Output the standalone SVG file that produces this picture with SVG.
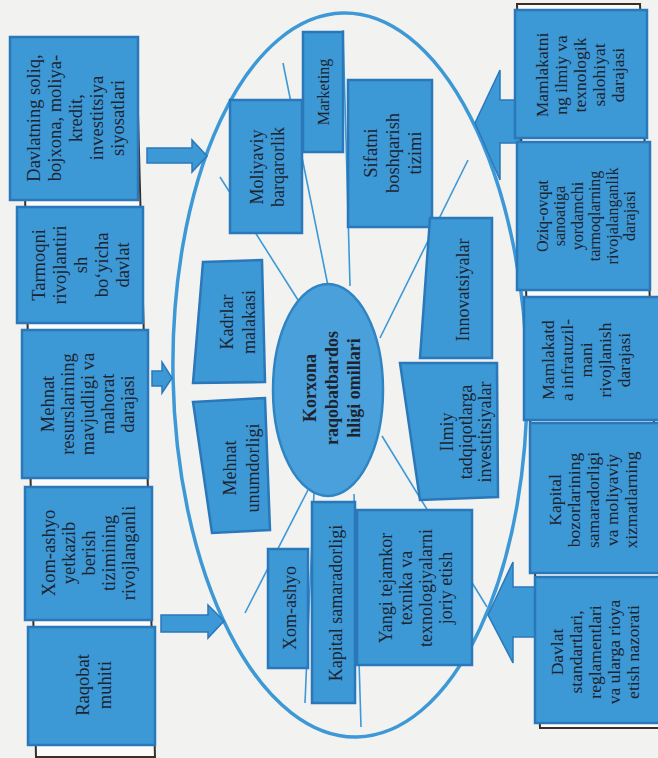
<svg xmlns="http://www.w3.org/2000/svg" width="658" height="758" viewBox="0 0 658 758">
<defs>
<style>
.bg{fill:#f2f2f1}
.box{fill:#3d98d6;stroke:#2a78b9;stroke-width:2.5}
.frame{fill:#fbfbfa;stroke:#3b2f27;stroke-width:2}
.t{font-family:"Liberation Serif","Times New Roman",serif;fill:#1c2430;text-anchor:middle}
.f185{font-size:18.5px}
.f18{font-size:18px}
.f175{font-size:17.5px}
.f16{font-size:16px}
.b{font-weight:bold}
.ln{stroke:#3d98d6;stroke-width:1.6;fill:none}
.oval{fill:none;stroke:#3d98d6;stroke-width:3.5}
.arrow{fill:#3d98d6;stroke:#2a78b9;stroke-width:1.5}
.core{fill:#4aa0da;stroke:#2f84c4;stroke-width:2.5}
</style>
</defs>
<rect class="bg" x="0" y="0" width="658" height="758"/>

<ellipse class="oval" cx="350" cy="375" rx="177" ry="362" transform="rotate(-1.1 350 375)"/>

<g id="connectors">
<line class="ln" x1="283" y1="63" x2="328" y2="286"/>
<line class="ln" x1="343" y1="30" x2="350" y2="286"/>
<line class="ln" x1="220" y1="177" x2="298" y2="300"/>
<line class="ln" x1="468" y1="160" x2="380" y2="338"/>
<line class="ln" x1="382" y1="436" x2="487" y2="607"/>
<line class="ln" x1="308" y1="490" x2="245" y2="613"/>
<line class="ln" x1="314" y1="492" x2="305" y2="703"/>
<line class="ln" x1="354" y1="494" x2="361" y2="727"/>
<path class="arrow" d="M147,148 H192 V140 L207,156 L192,172 V163 H147 Z"/>
<path class="arrow" d="M152,371 H162 V362 L172,378 L162,393 V386 H152 Z"/>
<path class="arrow" d="M161,615 H208 V605 L224,621 L208,638 V632 H161 Z"/>
<path class="arrow" d="M520,100 H500 V70 L475,123 L500,180 V143 H520 Z"/>
<path class="arrow" d="M537,587 H513 V562 L488,615 L513,663 V637 H537 Z"/>
</g>

<polygon class="frame" points="22,38 136,38 155,757 36,757"/>
<polygon class="frame" points="517,4 640,4 664,728 540,728"/>

<g id="left1"><rect class="box" x="10" y="37" width="128" height="163"/>
<text class="t f185" transform="translate(0,118) rotate(-90)"><tspan x="0" y="39.5">Davlatning soliq,</tspan><tspan x="0" y="60.5">bojxona, moliya-</tspan><tspan x="0" y="81.5">kredit,</tspan><tspan x="0" y="102.5">investitsiya</tspan><tspan x="0" y="123.5">siyosatlari</tspan></text></g>
<g id="left2"><rect class="box" x="17" y="207" width="126" height="116"/>
<text class="t f185" transform="translate(0,265) rotate(-90)"><tspan x="0" y="44.5">Tarmoqni</tspan><tspan x="0" y="65.5">rivojlantiri</tspan><tspan x="0" y="86.5">sh</tspan><tspan x="0" y="107.5">bo‘yicha</tspan><tspan x="0" y="128.5">davlat</tspan></text></g>
<g id="left3"><rect class="box" x="22" y="330" width="126" height="148"/>
<text class="t f185" transform="translate(0,404) rotate(-90)"><tspan x="0" y="53.5">Mehnat</tspan><tspan x="0" y="73.5">resurslarining</tspan><tspan x="0" y="93.5">mavjudligi va</tspan><tspan x="0" y="113.5">mahorat</tspan><tspan x="0" y="133.5">darajasi</tspan></text></g>
<g id="left4"><rect class="box" x="25" y="487" width="127" height="133"/>
<text class="t f185" transform="translate(0,553) rotate(-90)"><tspan x="0" y="54.5">Xom-ashyo</tspan><tspan x="0" y="74.5">yetkazib</tspan><tspan x="0" y="94.5">berish</tspan><tspan x="0" y="114.5">tizimining</tspan><tspan x="0" y="134.5">rivojlanganli</tspan></text></g>
<g id="left5"><rect class="box" x="28" y="627" width="127" height="118"/>
<text class="t f185" transform="translate(0,685) rotate(-90)"><tspan x="0" y="88.5">Raqobat</tspan><tspan x="0" y="110.5">muhiti</tspan></text></g>

<g id="right1"><rect class="box" x="515" y="10" width="132" height="128"/>
<text class="t f175" transform="translate(0,75) rotate(-90)"><tspan x="0" y="548.1">Mamlakatni</tspan><tspan x="0" y="567.1">ng ilmiy va</tspan><tspan x="0" y="586.1">texnologik</tspan><tspan x="0" y="605.1">salohiyat</tspan><tspan x="0" y="624.1">darajasi</tspan></text></g>
<g id="right2"><rect class="box" x="517" y="142" width="133" height="148"/>
<text class="t f16" transform="translate(0,216) rotate(-90)"><tspan x="0" y="547.6">Oziq-ovqat</tspan><tspan x="0" y="565.1">sanoatiga</tspan><tspan x="0" y="582.6">yordamchi</tspan><tspan x="0" y="600.1">tarmoqlarning</tspan><tspan x="0" y="617.6">rivojalanganlik</tspan><tspan x="0" y="635.1">darajasi</tspan></text></g>
<g id="right3"><rect class="box" x="524" y="297" width="141" height="123"/>
<text class="t f175" transform="translate(0,360) rotate(-90)"><tspan x="0" y="554.1">Mamlakatd</tspan><tspan x="0" y="573.1">a infratuzil-</tspan><tspan x="0" y="592.1">mani</tspan><tspan x="0" y="611.1">rivojlanish</tspan><tspan x="0" y="630.1">darajasi</tspan></text></g>
<g id="right4"><rect class="box" x="530" y="423" width="135" height="150"/>
<text class="t f175" transform="translate(0,500) rotate(-90)"><tspan x="0" y="561.1">Kapital</tspan><tspan x="0" y="580.1">bozorlarining</tspan><tspan x="0" y="599.1">samaradorligi</tspan><tspan x="0" y="618.1">va moliyaviy</tspan><tspan x="0" y="637.1">xizmatlarning</tspan></text></g>
<g id="right5"><rect class="box" x="535" y="577" width="130" height="146"/>
<text class="t f175" transform="translate(0,652) rotate(-90)"><tspan x="0" y="563.1">Davlat</tspan><tspan x="0" y="582.1">standartlari,</tspan><tspan x="0" y="601.1">reglamentlari</tspan><tspan x="0" y="620.1">va ularga rioya</tspan><tspan x="0" y="639.1">etish nazorati</tspan></text></g>

<g id="core"><ellipse class="core" cx="328" cy="390" rx="55" ry="106"/>
<text class="t f18 b" transform="translate(0,388) rotate(-90)"><tspan x="0" y="316.3">Korxona</tspan><tspan x="0" y="338.3">raqobatbardos</tspan><tspan x="0" y="360.3">hligi omillari</tspan></text></g>

<g id="marketing"><rect class="box" x="303" y="32" width="40" height="120"/>
<text class="t f16" transform="translate(0,92) rotate(-90)"><tspan x="0" y="328.6">Marketing</tspan></text></g>
<g id="moliyaviy"><rect class="box" x="230" y="100" width="72" height="133"/>
<text class="t f18" transform="translate(0,167) rotate(-90)"><tspan x="0" y="263.3">Moliyaviy</tspan><tspan x="0" y="284.3">barqarorlik</tspan></text></g>
<g id="sifat"><rect class="box" x="348" y="80" width="84" height="147"/>
<text class="t f185" transform="translate(0,153) rotate(-90)"><tspan x="0" y="376.5">Sifatni</tspan><tspan x="0" y="398.5">boshqarish</tspan><tspan x="0" y="420.5">tizimi</tspan></text></g>
<g id="innovatsiya"><polygon class="box" points="430,218 492,218 492,358 420,358"/>
<text class="t f18" transform="translate(0,290) rotate(-90)"><tspan x="0" y="469.3">Innovatsiyalar</tspan></text></g>
<g id="ilmiy"><polygon class="box" points="400,363 497,363 498,497 420,500"/>
<text class="t f18" transform="translate(0,432) rotate(-90)"><tspan x="0" y="453.3">Ilmiy</tspan><tspan x="0" y="472.3">tadqiqotlarga</tspan><tspan x="0" y="491.3">investitsiyalar</tspan></text></g>
<g id="kadrlar"><polygon class="box" points="203,262 262,260 265,382 193,383"/>
<text class="t f18" transform="translate(0,322) rotate(-90)"><tspan x="0" y="233.3">Kadrlar</tspan><tspan x="0" y="255.3">malakasi</tspan></text></g>
<g id="mehnat"><polygon class="box" points="193,402 265,398 270,530 212,533"/>
<text class="t f18" transform="translate(0,468) rotate(-90)"><tspan x="0" y="236.3">Mehnat</tspan><tspan x="0" y="259.3">unumdorligi</tspan></text></g>
<g id="xomashyo"><rect class="box" x="268" y="549" width="40" height="119"/>
<text class="t f18" transform="translate(0,608) rotate(-90)"><tspan x="0" y="296.3">Xom-ashyo</tspan></text></g>
<g id="kapital"><rect class="box" x="312" y="502" width="43" height="201"/>
<text class="t f18" transform="translate(0,603) rotate(-90)"><tspan x="0" y="342.3">Kapital samaradorligi</tspan></text></g>
<g id="yangi"><rect class="box" x="357" y="510" width="115" height="155"/>
<text class="t f18" transform="translate(0,588) rotate(-90)"><tspan x="0" y="392.3">Yangi tejamkor</tspan><tspan x="0" y="412.3">texnika va</tspan><tspan x="0" y="432.3">texnologiyalarni</tspan><tspan x="0" y="452.3">joriy etish</tspan></text></g>
</svg>
